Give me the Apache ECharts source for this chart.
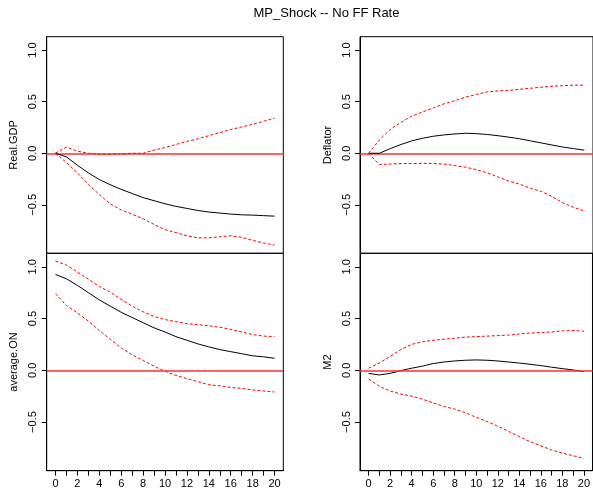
<!DOCTYPE html>
<html>
<head>
<meta charset="utf-8">
<script src="https://cdn.jsdelivr.net/npm/echarts@6/dist/echarts.min.js"></script>
<style>
  html, body { margin: 0; padding: 0; background: #fff; }
  #chart { width: 593px; height: 490px; }
</style>
</head>
<body>
<div id="chart"></div>
<script>
// horizon steps
const horizon = [0, 1, 2, 3, 4, 5, 6, 7, 8, 9, 10, 11, 12, 13, 14, 15, 16, 17, 18, 19, 20];
const xTicks = horizon;
const xLabels = [0, 2, 4, 6, 8, 10, 12, 14, 16, 18, 20];
const yTicks = [-0.5, 0, 0.5, 1.0];

// Real.GDP
const gdpIrf = [0, -0.035, -0.116, -0.19, -0.255, -0.305, -0.35, -0.39, -0.43, -0.46, -0.49, -0.515, -0.535, -0.555, -0.57, -0.58, -0.59, -0.597, -0.6, -0.605, -0.61];
const gdpUpper = [0, 0.06, 0.02, 0.0, -0.01, -0.01, -0.005, 0, 0.0, 0.03, 0.055, 0.085, 0.115, 0.14, 0.17, 0.2, 0.23, 0.255, 0.28, 0.31, 0.34];
const gdpLower = [0, -0.09, -0.19, -0.3, -0.4, -0.49, -0.55, -0.59, -0.635, -0.69, -0.74, -0.77, -0.8, -0.82, -0.82, -0.81, -0.8, -0.815, -0.845, -0.87, -0.89];

// Deflator
const defIrf = [0, 0, 0.045, 0.085, 0.12, 0.145, 0.165, 0.178, 0.187, 0.194, 0.19, 0.182, 0.17, 0.156, 0.14, 0.12, 0.1, 0.08, 0.06, 0.045, 0.03];
const defUpper = [0, 0.13, 0.23, 0.3, 0.36, 0.4, 0.44, 0.48, 0.51, 0.545, 0.57, 0.595, 0.605, 0.61, 0.62, 0.63, 0.64, 0.65, 0.655, 0.66, 0.66];
const defLower = [0, -0.11, -0.105, -0.1, -0.1, -0.097, -0.1, -0.105, -0.12, -0.135, -0.16, -0.19, -0.23, -0.27, -0.3, -0.34, -0.37, -0.42, -0.48, -0.525, -0.56];

// average.ON
const onIrf = [0.926, 0.884, 0.82, 0.75, 0.68, 0.62, 0.56, 0.51, 0.46, 0.41, 0.37, 0.325, 0.29, 0.255, 0.226, 0.2, 0.18, 0.16, 0.14, 0.13, 0.116];
const onUpper = [1.055, 1.016, 0.95, 0.88, 0.81, 0.755, 0.685, 0.62, 0.565, 0.52, 0.49, 0.47, 0.45, 0.44, 0.43, 0.416, 0.395, 0.37, 0.345, 0.33, 0.326];
const onLower = [0.74, 0.626, 0.555, 0.475, 0.385, 0.3, 0.215, 0.15, 0.094, 0.04, -0.01, -0.05, -0.08, -0.11, -0.14, -0.15, -0.165, -0.175, -0.19, -0.2, -0.21];

// M2
const m2Irf = [-0.03, -0.045, -0.03, -0.003, 0.02, 0.04, 0.065, 0.08, 0.09, 0.097, 0.1, 0.097, 0.09, 0.08, 0.07, 0.058, 0.045, 0.03, 0.016, 0.003, -0.013];
const m2Upper = [0.02, 0.07, 0.135, 0.2, 0.25, 0.275, 0.29, 0.3, 0.31, 0.32, 0.325, 0.33, 0.335, 0.34, 0.35, 0.36, 0.365, 0.37, 0.38, 0.385, 0.377];
const m2Lower = [-0.085, -0.155, -0.2, -0.23, -0.25, -0.28, -0.315, -0.35, -0.375, -0.41, -0.455, -0.495, -0.54, -0.59, -0.64, -0.69, -0.73, -0.77, -0.8, -0.825, -0.85];

const panels = [
  { name: 'Real.GDP', irf: gdpIrf, upper: gdpUpper, lower: gdpLower },
  { name: 'Deflator', irf: defIrf, upper: defUpper, lower: defLower },
  { name: 'average.ON', irf: onIrf, upper: onUpper, lower: onLower },
  { name: 'M2', irf: m2Irf, upper: m2Upper, lower: m2Lower }
];

const font = 'Liberation Sans, Arial, Helvetica, sans-serif';
const zeroRed = '#ff3030';
const pair = (ys) => horizon.map((h, i) => [h, ys[i]]);
const fmtY = (v) => {
  const s = Math.abs(v).toFixed(1);
  return v < 0 ? '\u2212' + s : s;
};

// panel boxes (px)
const boxes = [
  { left: 46.7, top: 36.7, height: 216.6 },
  { left: 360, top: 36.7, height: 216.6 },
  { left: 46.7, top: 253.3, height: 217.4 },
  { left: 360, top: 253.3, height: 217.4 }
];

const grids = boxes.map(b => ({
  left: b.left, top: b.top, width: 236.6, height: b.height,
  show: true, borderColor: '#000', borderWidth: 1
}));

// top row: x axis sits on zero and draws the red reference line
// bottom row: x axis at the bottom with ticks and labels
const xAxes = boxes.map((b, i) => {
  const bottomRow = i >= 2;
  return {
    type: 'value', gridIndex: i, min: -0.8, max: 20.8,
    axisLine: bottomRow
      ? { show: true, onZero: false, lineStyle: { color: '#000', width: 1 } }
      : { show: true, onZero: true, lineStyle: { color: zeroRed, width: 1.5 } },
    axisTick: { show: bottomRow, customValues: xTicks, length: 5, lineStyle: { color: '#000' } },
    axisLabel: { show: bottomRow, customValues: xLabels, margin: 8, color: '#000', fontSize: 11, fontFamily: font },
    splitLine: { show: false }
  };
});

const yAxes = panels.map((p, i) => ({
  type: 'value', gridIndex: i, min: -0.97, max: 1.13,
  name: p.name, nameLocation: 'middle', nameRotate: 90, nameGap: 27,
  nameTextStyle: { color: '#000', fontSize: 11, fontFamily: font },
  axisLine: { show: true, onZero: false, lineStyle: { color: '#000', width: 1 } },
  axisTick: { customValues: yTicks, length: 5, lineStyle: { color: '#000' } },
  axisLabel: { customValues: yTicks, rotate: 90, margin: 8, color: '#000', fontSize: 11, fontFamily: font, formatter: fmtY },
  splitLine: { show: false }
}));

const series = [];
panels.forEach((p, i) => {
  const irf = {
    type: 'line', xAxisIndex: i, yAxisIndex: i, data: pair(p.irf),
    showSymbol: false, lineStyle: { color: '#000', width: 1 }
  };
  if (i >= 2) {
    irf.markLine = {
      symbol: 'none', silent: true, label: { show: false },
      lineStyle: { color: zeroRed, width: 1.5, type: 'solid' },
      data: [{ yAxis: 0 }]
    };
  }
  series.push(irf);
  series.push({
    type: 'line', xAxisIndex: i, yAxisIndex: i, data: pair(p.upper),
    showSymbol: false, lineStyle: { color: '#ff0000', width: 1, type: [3, 2] }
  });
  series.push({
    type: 'line', xAxisIndex: i, yAxisIndex: i, data: pair(p.lower),
    showSymbol: false, lineStyle: { color: '#ff0000', width: 1, type: [3, 2] }
  });
});

const chart = echarts.init(document.getElementById('chart'));
chart.setOption({
  animation: false,
  title: {
    text: 'MP_Shock -- No FF Rate', left: 321.5, top: 2, textAlign: 'center',
    textStyle: { color: '#000', fontSize: 13, fontWeight: 'normal', fontFamily: font }
  },
  grid: grids,
  xAxis: xAxes,
  yAxis: yAxes,
  series: series
});
</script>
</body>
</html>
